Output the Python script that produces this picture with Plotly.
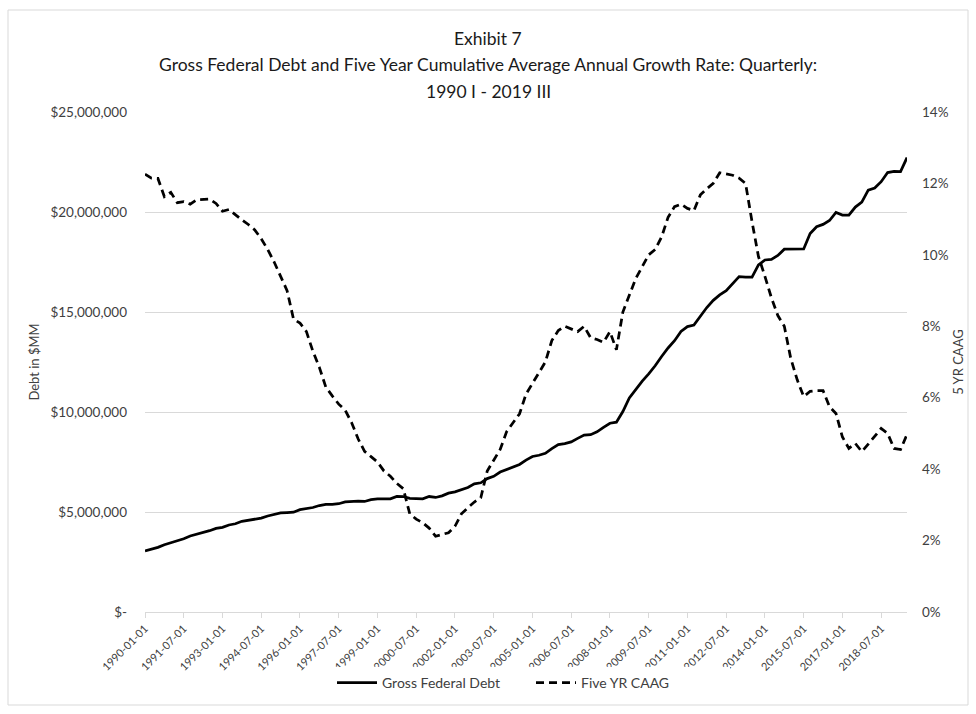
import plotly.graph_objects as go

# Quarterly periods, 1990 Q1 through 2019 Q3
years = list(range(1990, 2020))
quarter_months = ["01", "04", "07", "10"]
periods = [f"{y}-{m}-01" for y in years for m in quarter_months][:119]

# Gross federal debt, thousands of $MM (scaled to $MM below)
debt_k = [
    3052, 3144, 3233, 3365,
    3465, 3538, 3665, 3802,
    3882, 3980, 4065, 4177,
    4231, 4352, 4411, 4536,
    4576, 4646, 4693, 4800,
    4865, 4951, 4974, 4989,
    5118, 5161, 5225, 5323,
    5381, 5376, 5413, 5502,
    5542, 5548, 5526, 5614,
    5651, 5639, 5656, 5776,
    5774, 5686, 5674, 5662,
    5774, 5727, 5807, 5943,
    6006, 6126, 6228, 6406,
    6460, 6670, 6783, 6998,
    7131, 7274, 7379, 7596,
    7777, 7837, 7933, 8170,
    8371, 8420, 8507, 8680,
    8849, 8868, 9008, 9229,
    9437, 9492, 10025, 10700,
    11127, 11545, 11910, 12311,
    12773, 13202, 13562, 14025,
    14270, 14343, 14790, 15223,
    15582, 15856, 16066, 16433,
    16771, 16738, 16738, 17352,
    17601, 17633, 17824, 18141,
    18152, 18152, 18151, 18922,
    19264, 19381, 19573, 19977,
    19846, 19845, 20245, 20493,
    21090, 21195, 21516, 21974,
    22028, 22023, 22719,
]
debt = [v * 1000 for v in debt_k]

# Five-year cumulative average annual growth rate, percent
caag_pct = [
    12.26, 12.15, 12.14, 11.63, 11.75, 11.46, 11.49, 11.42, 11.54, 11.55,
    11.56, 11.44, 11.22, 11.27, 11.12, 10.98, 10.85, 10.70, 10.45, 10.15,
    9.80, 9.40, 9.00, 8.20, 8.09, 7.85, 7.30, 6.85, 6.30, 6.05,
    5.82, 5.65, 5.30, 4.85, 4.50, 4.35, 4.20, 3.95, 3.80, 3.60,
    3.45, 2.75, 2.60, 2.50, 2.35, 2.12, 2.18, 2.22, 2.40, 2.75,
    2.92, 3.08, 3.20, 3.95, 4.25, 4.55, 5.05, 5.30, 5.55, 6.10,
    6.40, 6.70, 7.00, 7.60, 7.88, 8.00, 7.92, 7.85, 8.00, 7.68,
    7.63, 7.55, 7.85, 7.34, 8.40, 8.90, 9.34, 9.67, 10.00, 10.15,
    10.50, 11.05, 11.35, 11.42, 11.30, 11.24, 11.68, 11.85, 12.00, 12.30,
    12.26, 12.23, 12.15, 12.00, 10.93, 9.95, 9.40, 8.80, 8.30, 8.00,
    7.10, 6.50, 6.03, 6.18, 6.20, 6.20, 5.75, 5.56, 4.90, 4.58,
    4.72, 4.49, 4.70, 4.92, 5.14, 5.00, 4.58, 4.55, 4.97,
]
caag = [v / 100 for v in caag_pct]

debt_ticks = [0, 5e6, 10e6, 15e6, 20e6, 25e6]
debt_tick_text = ["$-", "$5,000,000", "$10,000,000", "$15,000,000",
                  "$20,000,000", "$25,000,000"]

title_lines = [
    "Exhibit 7",
    "Gross Federal Debt and Five Year Cumulative Average Annual Growth Rate: Quarterly:",
    "1990 I - 2019 III",
]

FONT = "Lato"
TEXT = "#404040"
GRID = "#d9d9d9"
W, H = 976, 714

fig = go.Figure()
fig.add_trace(go.Scatter(
    x=periods, y=debt, name="Gross Federal Debt", mode="lines",
    line=dict(color="black", width=2.75),
))
fig.add_trace(go.Scatter(
    x=periods, y=caag, name="Five YR CAAG", mode="lines", yaxis="y2",
    line=dict(color="black", width=2.75, dash="8px,5px"),
))

# plot area spans pixels x 145..907, y 112..612
L, R, T, B = 145, 69, 112, 102
PW, PH = W - L - R, H - T - B


def px_x(p):
    return (p - L) / PW


def px_y(p):
    return (H - B - p) / PH


fig.update_layout(
    width=W, height=H,
    margin=dict(l=L, r=R, t=T, b=B, autoexpand=False),
    paper_bgcolor="white", plot_bgcolor="white",
    font=dict(family=FONT, color=TEXT, size=13),
    xaxis=dict(
        type="category", automargin=False,
        range=[0, len(periods) - 1],
        tickmode="array", tickvals=periods[::6], ticktext=periods[::6],
        tickangle=-45, tickfont=dict(size=11, color=TEXT),
        ticks="outside", ticklen=5, tickcolor=GRID,
        showgrid=False, showline=True, linecolor=GRID, linewidth=1,
        zeroline=False,
    ),
    yaxis=dict(
        automargin=False,
        range=[0, 25e6],
        tickmode="array", tickvals=debt_ticks, ticktext=debt_tick_text,
        tickfont=dict(size=13.5, color=TEXT),
        showgrid=True, gridcolor=GRID, gridwidth=1,
        zeroline=False, showline=False, ticks="", ticklabelstandoff=17,
        title=dict(text="Debt in $MM", font=dict(size=13, color=TEXT),
                   standoff=7),
    ),
    yaxis2=dict(
        automargin=False,
        overlaying="y", side="right",
        range=[0, 0.14], dtick=0.02, tickformat=".0%",
        tickfont=dict(size=13.5, color=TEXT),
        showgrid=False, zeroline=False, showline=False, ticks="",
        ticklabelstandoff=14,
        title=dict(text="5 YR CAAG", font=dict(size=13, color=TEXT),
                   standoff=6),
    ),
    legend=dict(
        orientation="h", x=332 / W, xref="container", xanchor="left",
        y=1 - 683 / H, yref="container", yanchor="middle",
        font=dict(size=14, color=TEXT),
        itemwidth=40, tracegroupgap=0,
        entrywidth=144, entrywidthmode="pixels",
    ),
    showlegend=True,
)

# three centred title lines
for text, cy in zip(title_lines, [38, 65, 92]):
    fig.add_annotation(
        text=text, xref="paper", yref="paper",
        x=px_x(W / 2), y=px_y(cy), xanchor="center", yanchor="middle",
        showarrow=False, font=dict(family=FONT, size=17.5, color="#1a1a1a"),
    )

# thin frame around the whole chart
fig.add_shape(
    type="rect", xref="paper", yref="paper",
    x0=px_x(8), x1=px_x(968), y0=px_y(705), y1=px_y(10),
    line=dict(color=GRID, width=1), fillcolor="rgba(0,0,0,0)", layer="below",
)

fig.write_html("out.html")
